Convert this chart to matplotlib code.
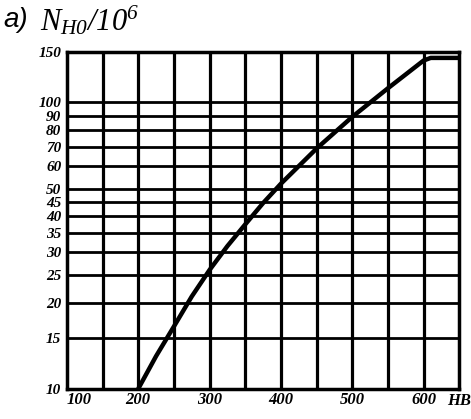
import numpy as np
import matplotlib
matplotlib.use("Agg")
import matplotlib.pyplot as plt
from matplotlib.ticker import FixedLocator, NullLocator

# values
hb = [200, 225, 250, 275, 300, 325, 350, 375, 400, 450, 500, 550, 600, 610, 650]
n_ho = [10, 13, 16.5, 21, 26, 31.5, 37.5, 44.5, 52, 69, 89, 112, 140, 143, 143]

x_grid = [150, 200, 250, 300, 350, 400, 450, 500, 550, 600]
x_labels = [100, 200, 300, 400, 500, 600]
y_ticks = [10, 15, 20, 25, 30, 35, 40, 45, 50, 60, 70, 80, 90, 100, 150]

plt.rcParams['mathtext.fontset'] = 'custom'
plt.rcParams['mathtext.it'] = 'Liberation Serif:italic'
plt.rcParams['mathtext.rm'] = 'Liberation Serif:italic'

fig = plt.figure(figsize=(4.71, 4.19), dpi=100)
ax = fig.add_axes([0.142, 0.072, 0.833, 0.804])

ax.set_yscale('log')
ax.set_xlim(100, 650)
ax.set_ylim(10, 150)

for x in x_grid:
    ax.axvline(x, color='black', lw=2.3, zorder=1)
for y in y_ticks[1:-1]:
    ax.axhline(y, color='black', lw=2.0, zorder=1)

ax.plot(hb, n_ho, color='black', lw=3.2, solid_capstyle='butt', zorder=3)

for s in ax.spines.values():
    s.set_linewidth(2.5)

tick_font = dict(family='Liberation Serif', style='italic', weight='bold', size=12)
ax.yaxis.set_major_locator(FixedLocator(y_ticks))
ax.yaxis.set_minor_locator(NullLocator())
ax.set_yticklabels([str(v) for v in y_ticks], **dict(tick_font, size=11))
ax.xaxis.set_major_locator(FixedLocator(x_labels))
ax.set_xticklabels([str(v) for v in x_labels], **tick_font)
ax.tick_params(length=0, pad=2)
ax.tick_params(axis='y', pad=4)
ax.get_xticklabels()[0].set_horizontalalignment('left')

ax.text(1.0, -0.012, 'HB', transform=ax.transAxes, ha='center', va='top', **tick_font)

fig.text(0.008, 0.953, 'a)', family='Liberation Sans', style='italic', size=20, va='center')
fig.text(0.085, 0.953, r'$N_{H0}/10^{6}$', size=22, va='center')

fig.savefig('out.png', dpi=100)
